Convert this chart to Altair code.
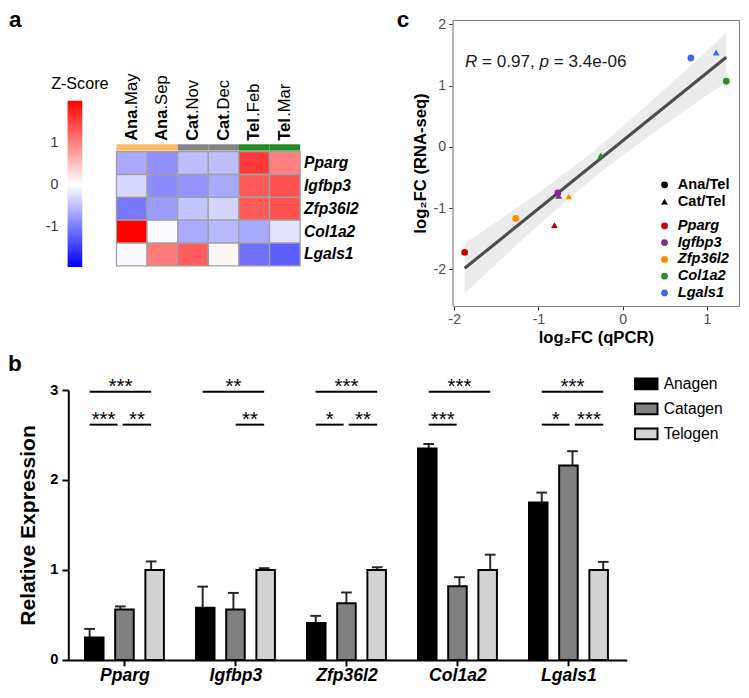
import altair as alt
import pandas as pd

K = 0.977


def P(v):
    return round(v * K, 2)


W, H = 732, 681
FONT = "Liberation Sans"
PLAIN_LABEL = "datum.value + ''"

# ---------------- data: panel a (heatmap) ----------------
hm_samples = ["Ana.May", "Ana.Sep", "Cat.Nov", "Cat.Dec", "Tel.Feb", "Tel.Mar"]
hm_phase = ["Ana", "Ana", "Cat", "Cat", "Tel", "Tel"]
hm_month = [".May", ".Sep", ".Nov", ".Dec", ".Feb", ".Mar"]
hm_genes = ["Pparg", "Igfbp3", "Zfp36l2", "Col1a2", "Lgals1"]
z_pparg = [-0.66, -0.86, -0.50, -0.50, 1.55, 1.00]
z_igfbp3 = [-0.30, -0.88, -0.82, -0.66, 1.29, 1.37]
z_zfp36l2 = [-1.03, -0.76, -0.45, -0.33, 1.29, 1.37]
z_col1a2 = [1.98, -0.02, -0.65, -0.54, -0.66, -0.22]
z_lgals1 = [-0.05, 1.04, 1.26, 0.08, -1.09, -1.23]
z_rows = [z_pparg, z_igfbp3, z_zfp36l2, z_col1a2, z_lgals1]
z_ticks = [-1, 0, 1]
z_domain = [-1.95, 2.0]
phase_names = ["Ana", "Cat", "Tel"]
phase_colors = ["#FBB869", "#858585", "#228B22"]

# ---------------- data: panel c (scatter) ----------------
sc_genes = ["Pparg", "Igfbp3", "Zfp36l2", "Col1a2", "Lgals1"]
gene_colors = ["#CD0000", "#7D2E8F", "#FF8C00", "#24902A", "#4169E1"]
qpcr_ana = [-1.876, -0.77, -1.27, 1.23, 0.81]
rnaseq_ana = [-1.725, -0.755, -1.17, 1.07, 1.45]
qpcr_cat = [-0.81, -0.76, -0.64, -0.26, 1.11]
rnaseq_cat = [-1.28, -0.80, -0.81, -0.14, 1.54]
band_x = [-1.876, -1.5, -1.0, -0.5, -0.32, 0.0, 0.5, 1.0, 1.23]
band_lo = [-2.40, -1.91, -1.28, -0.68, -0.48, -0.14, 0.36, 0.84, 1.05]
band_hi = [-1.58, -1.23, -0.75, -0.24, -0.04, 0.33, 0.94, 1.57, 1.87]
comp_names = ["Ana/Tel", "Cat/Tel"]
r_pieces = ["R", "= 0.97,", "p", "= 3.4e-06"]
r_italic = [True, False, True, False]
r_em = [0.0, 1.0, 4.364, 5.198]
r_anchor_x, r_anchor_y = -1.873, 1.30

# ---------------- data: panel b (bars) ----------------
bar_genes = ["Pparg", "Igfbp3", "Zfp36l2", "Col1a2", "Lgals1"]
stages = ["Anagen", "Catagen", "Telogen"]
stage_fill = ["#000000", "#808080", "#D3D3D3"]
mean_anagen = [0.25, 0.58, 0.41, 2.35, 1.75]
sem_anagen = [0.095, 0.235, 0.08, 0.05, 0.11]
mean_catagen = [0.56, 0.56, 0.63, 0.82, 2.16]
sem_catagen = [0.035, 0.185, 0.12, 0.10, 0.16]
mean_telogen = [1.0, 1.0, 1.0, 1.0, 1.0]
sem_telogen = [0.095, 0.02, 0.03, 0.17, 0.09]
sig_gene = ["Pparg", "Pparg", "Pparg", "Igfbp3", "Igfbp3", "Zfp36l2", "Zfp36l2",
            "Zfp36l2", "Col1a2", "Col1a2", "Lgals1", "Lgals1", "Lgals1"]
sig_from = ["Anagen", "Anagen", "Catagen", "Anagen", "Catagen", "Anagen", "Anagen",
            "Catagen", "Anagen", "Anagen", "Anagen", "Anagen", "Catagen"]
sig_to = ["Telogen", "Catagen", "Telogen", "Telogen", "Telogen", "Telogen", "Catagen",
          "Telogen", "Telogen", "Catagen", "Telogen", "Catagen", "Telogen"]
sig_row = ["top", "low", "low", "top", "low", "top", "low", "low", "top", "low", "top", "low", "low"]
sig_label = ["***", "***", "**", "**", "**", "***", "*", "**", "***", "***", "***", "*", "***"]
sig_level = {"top": 2.98, "low": 2.615}

# ================= build frames =================
hm_df = pd.DataFrame([{"sample": s, "gene": g, "z": z_rows[i][j]}
                      for i, g in enumerate(hm_genes) for j, s in enumerate(hm_samples)])
col_df = pd.DataFrame({"sample": hm_samples, "phase": hm_phase, "month": hm_month})
gene_df = pd.DataFrame({"gene": hm_genes})
zt_df = pd.DataFrame({"v": z_ticks})

pts_df = pd.DataFrame({
    "gene": sc_genes + sc_genes,
    "comp": [comp_names[0]] * 5 + [comp_names[1]] * 5,
    "qpcr": qpcr_ana + qpcr_cat,
    "rnaseq": rnaseq_ana + rnaseq_cat,
})
band_df = pd.DataFrame({"bx": band_x, "lo": band_lo, "hi": band_hi})

STAGE_STEP = 0.272
CAP = 0.0475
GAP_END, GAP_START = 0.025, 0.02
means = [mean_anagen, mean_catagen, mean_telogen]
sems = [sem_anagen, sem_catagen, sem_telogen]
rows = []
for gi, g in enumerate(bar_genes):
    for si, s in enumerate(stages):
        pos = gi + (si - 1) * STAGE_STEP
        m = means[si][gi]
        e = sems[si][gi]
        rows.append({"gene": g, "stage": s, "pos": pos, "mean": m, "upper": m + e,
                     "cap_l": pos - CAP, "cap_r": pos + CAP})
bar_df = pd.DataFrame(rows)

srows = []
for g, a, b, r, lab in zip(sig_gene, sig_from, sig_to, sig_row, sig_label):
    gi = bar_genes.index(g)
    x1 = gi + (stages.index(a) - 1) * STAGE_STEP + (GAP_START if a == "Catagen" else 0)
    x2 = gi + (stages.index(b) - 1) * STAGE_STEP - (GAP_END if b == "Catagen" else 0)
    srows.append({"x1": x1, "x2": x2, "xm": (x1 + x2) / 2, "lvl": sig_level[r], "label": lab})
sig_df = pd.DataFrame(srows)

one = pd.DataFrame({"t": [""]})

# ================= panel a =================
hx = alt.Scale(domain=hm_samples, range=[P(111), P(299)], paddingInner=0, paddingOuter=0)
hy = alt.Scale(domain=hm_genes, range=[P(147), P(264)], paddingInner=0, paddingOuter=0)

heat = alt.Chart(hm_df).mark_rect(stroke="#A0A0A0", strokeWidth=1.3).encode(
    x=alt.X("sample:N", scale=hx, axis=None),
    y=alt.Y("gene:N", scale=hy, axis=None),
    color=alt.Color(
        "z:Q",
        scale=alt.Scale(domain=[z_domain[0], 0, z_domain[1]], range=["#0000FF", "#FFFFFF", "#FF0000"],
                        interpolate="rgb"),
        legend=alt.Legend(orient="none", legendX=P(61), legendY=P(95), direction="vertical", title=None,
                          gradientLength=P(170), gradientThickness=P(15), gradientStrokeWidth=0,
                          values=z_ticks, labelOpacity=0, labelFontSize=1),
    ),
)

# colour-bar tick labels, on the same value scale as the colour bar
zlab = alt.Chart(zt_df).mark_tick(opacity=0).encode(
    y=alt.Y("v:Q", scale=alt.Scale(domain=z_domain, range=[P(265), P(95)], nice=False, zero=False),
            axis=alt.Axis(orient="left", offset=-P(61), values=z_ticks, grid=False, domain=False,
                          ticks=False, labelPadding=P(10), labelFont=FONT, labelFontSize=P(14.5),
                          labelColor="#333333", labelExpr=PLAIN_LABEL, title=None)),
    x=alt.value(P(68)),
)

strip = alt.Chart(col_df).mark_rect().encode(
    x=alt.X("sample:N", scale=hx, axis=None),
    y=alt.value(P(139.5)),
    y2=alt.value(P(146)),
    color=alt.Color("phase:N", scale=alt.Scale(domain=phase_names, range=phase_colors), legend=None),
)

FS_COL = P(17)
col_bold = alt.Chart(col_df).mark_text(angle=270, align="left", baseline="middle", font=FONT,
                                       fontSize=FS_COL, fontWeight="bold", color="black").encode(
    x=alt.X("sample:N", scale=hx, axis=None), y=alt.value(P(136)), text="phase:N")

suffix_layers = []
for ph, em in [("Ana", 1.889), ("Cat", 1.611), ("Tel", 1.445)]:
    suffix_layers.append(
        alt.Chart(col_df).transform_filter(alt.datum.phase == ph).mark_text(
            angle=270, align="left", baseline="middle", font=FONT, fontSize=FS_COL,
            color="black", dx=round(em * FS_COL, 2)).encode(
            x=alt.X("sample:N", scale=hx, axis=None), y=alt.value(P(136)), text="month:N"))

row_lab = alt.Chart(gene_df).mark_text(align="left", baseline="middle", font=FONT, fontSize=P(16),
                                       fontWeight="bold", fontStyle="italic", color="black").encode(
    x=alt.value(P(303)), y=alt.Y("gene:N", scale=hy, axis=None), text="gene:N")

ztitle = alt.Chart(one).mark_text(align="center", baseline="alphabetic", font=FONT, fontSize=P(16.5),
                                  color="black", text="Z-Score").encode(
    x=alt.value(P(73.5)), y=alt.value(P(83.3)))


def letter(t, x, y):
    return alt.Chart(one).mark_text(align="left", baseline="alphabetic", font=FONT, fontSize=P(23),
                                    fontWeight="bold", color="black", text=t).encode(
        x=alt.value(P(x)), y=alt.value(P(y)))


letters = [letter("a", 1, 19), letter("b", 0, 372), letter("c", 398, 19)]

# ================= panel c =================
sxs = alt.Scale(domain=[-2.02, 1.382], range=[P(455), P(748.3)], nice=False, zero=False)
sys_ = alt.Scale(domain=[-2.6, 2.07], range=[P(305), P(12.3)], nice=False, zero=False)
BOX = "#7F7F7F"

band = alt.Chart(band_df).mark_area(color="#EBEBEB").encode(
    x=alt.X("bx:Q", scale=sxs,
            axis=alt.Axis(orient="top", offset=-P(12.3), labels=False, ticks=False, grid=False,
                          domainColor=BOX, domainWidth=1.2, title=None)),
    y=alt.Y("lo:Q", scale=sys_,
            axis=alt.Axis(orient="right", offset=P(748.3) - W, labels=False, ticks=False, grid=False,
                          domainColor=BOX, domainWidth=1.2, title=None)),
    y2="hi:Q",
)

reg = alt.Chart(pts_df).transform_regression("qpcr", "rnaseq").mark_line(
    color="#4D4D4D", strokeWidth=P(3.2)).encode(
    x=alt.X("qpcr:Q", scale=sxs, axis=None),
    y=alt.Y("rnaseq:Q", scale=sys_, axis=None),
)

pts = alt.Chart(pts_df).mark_point(filled=True, size=46, opacity=1).encode(
    x=alt.X("qpcr:Q", scale=sxs,
            axis=alt.Axis(orient="bottom", offset=P(305) - H, values=[-2, -1, 0, 1], grid=False,
                          domainColor=BOX, domainWidth=1.2, tickColor="#333333", tickSize=P(4),
                          labelColor="#4D4D4D", labelFontSize=P(14.5), labelFont=FONT, labelPadding=P(3),
                          labelExpr=PLAIN_LABEL,
                          title="log₂FC (qPCR)", titleFont=FONT, titleFontSize=P(17),
                          titleFontWeight="bold", titleColor="black", titlePadding=P(3))),
    y=alt.Y("rnaseq:Q", scale=sys_,
            axis=alt.Axis(orient="left", offset=-P(455), values=[-2, -1, 0, 1, 2], grid=False,
                          domainColor=BOX, domainWidth=1.2, tickColor="#333333", tickSize=P(4),
                          labelColor="#4D4D4D", labelFontSize=P(14.5), labelFont=FONT, labelPadding=P(3),
                          labelExpr=PLAIN_LABEL,
                          title="log₂FC (RNA-seq)", titleFont=FONT, titleFontSize=P(17),
                          titleFontWeight="bold", titleColor="black", titlePadding=P(5))),
    color=alt.Color("gene:N", scale=alt.Scale(domain=sc_genes, range=gene_colors),
                    legend=alt.Legend(orient="none", legendX=P(664.5), legendY=P(215.5), title=None,
                                      symbolType="circle", symbolSize=46, labelFont=FONT,
                                      labelFontSize=P(15), labelFontWeight="bold", labelFontStyle="italic",
                                      labelColor="black", labelOffset=P(6), rowPadding=P(1.8))),
    shape=alt.Shape("comp:N", scale=alt.Scale(domain=comp_names, range=["circle", "triangle-up"]),
                    legend=alt.Legend(orient="none", legendX=P(664.5), legendY=P(173.5), title=None,
                                      symbolSize=46, symbolFillColor="black", symbolStrokeWidth=0,
                                      labelFont=FONT, labelFontSize=P(15), labelFontWeight="bold",
                                      labelColor="black", labelOffset=P(6), rowPadding=P(1.8))),
)

FS_R = P(17.5)
r_layers = []
for piece, ital, em in zip(r_pieces, r_italic, r_em):
    r_layers.append(
        alt.Chart(pd.DataFrame({"x": [r_anchor_x], "y": [r_anchor_y], "t": [piece]})).mark_text(
            align="left", baseline="alphabetic", font=FONT, fontSize=FS_R, color="#1A1A1A",
            fontStyle="italic" if ital else "normal", dx=round(em * FS_R, 2)).encode(
            x=alt.X("x:Q", scale=sxs, axis=None), y=alt.Y("y:Q", scale=sys_, axis=None), text="t:N"))

# ================= panel b =================
bxs = alt.Scale(domain=[-0.461, 4.48], range=[P(61.7), P(633.3)], nice=False, zero=False)
bys = alt.Scale(domain=[0, 3], range=[P(667.3), P(391)], nice=False, zero=False)
label_expr = "[" + ",".join("'%s'" % g for g in bar_genes) + "][datum.value]"

bars = alt.Chart(bar_df).mark_bar(orient="vertical", width=P(19), stroke="black", strokeWidth=P(2)).encode(
    x=alt.X("pos:Q", scale=bxs,
            axis=alt.Axis(orient="bottom", offset=P(667.3) - H, values=[0, 1, 2, 3, 4], labelExpr=label_expr,
                          grid=False, domainColor="black", domainWidth=P(2), tickColor="black",
                          tickWidth=P(2), tickSize=P(6), labelFont=FONT, labelFontSize=P(18),
                          labelFontWeight="bold", labelFontStyle="italic", labelColor="black",
                          labelPadding=P(1), title=None)),
    y=alt.Y("mean:Q", scale=bys,
            axis=alt.Axis(orient="left", offset=-P(61.7), values=[0, 1, 2, 3], grid=False,
                          domainColor="black", domainWidth=P(2), tickColor="black", tickWidth=P(2),
                          tickSize=P(6.5), labelFont=FONT, labelFontSize=P(15), labelFontWeight="bold",
                          labelColor="black", labelPadding=P(4), title="Relative Expression",
                          titleFont=FONT, titleFontSize=P(21.6), titleFontWeight="bold",
                          titleColor="black", titlePadding=P(12))),
    y2=alt.datum(0),
    fill=alt.Fill("stage:N", scale=alt.Scale(domain=stages, range=stage_fill),
                  legend=alt.Legend(orient="none", legendX=P(640.5), legendY=P(372), title=None,
                                    symbolType="M-1,-0.48H1V0.48H-1Z",
                                    symbolSize=round((2 * P(11.5)) ** 2),
                                    symbolStrokeColor="black", symbolStrokeWidth=P(2),
                                    labelFont=FONT, labelFontSize=P(16), labelColor="black",
                                    labelOffset=P(5), rowPadding=P(3))),
)

err_v = alt.Chart(bar_df).mark_rule(color="#262626", strokeWidth=P(2)).encode(
    x=alt.X("pos:Q", scale=bxs, axis=None),
    y=alt.Y("mean:Q", scale=bys, axis=None),
    y2="upper:Q",
)
err_cap = alt.Chart(bar_df).mark_rule(color="#262626", strokeWidth=P(2)).encode(
    x=alt.X("cap_l:Q", scale=bxs, axis=None),
    x2="cap_r:Q",
    y=alt.Y("upper:Q", scale=bys, axis=None),
)
sig_lines = alt.Chart(sig_df).mark_rule(color="black", strokeWidth=P(2)).encode(
    x=alt.X("x1:Q", scale=bxs, axis=None),
    x2="x2:Q",
    y=alt.Y("lvl:Q", scale=bys, axis=None),
)
sig_text = alt.Chart(sig_df).mark_text(font=FONT, fontSize=P(21), align="center", baseline="alphabetic",
                                       dy=1, color="black").encode(
    x=alt.X("xm:Q", scale=bxs, axis=None),
    y=alt.Y("lvl:Q", scale=bys, axis=None),
    text="label:N",
)

layers = ([heat, zlab, strip, col_bold] + suffix_layers + [row_lab, ztitle]
          + [band, reg, pts] + r_layers
          + [err_v, err_cap, bars, sig_lines, sig_text] + letters)

chart = alt.layer(*layers).resolve_scale(
    x="independent", y="independent", color="independent", shape="independent", fill="independent"
).properties(
    width=W, height=H, padding=0, autosize=alt.AutoSizeParams(type="none")
).configure_view(stroke=None)

chart.save("out.html", embed_options={"renderer": "svg", "actions": False})
